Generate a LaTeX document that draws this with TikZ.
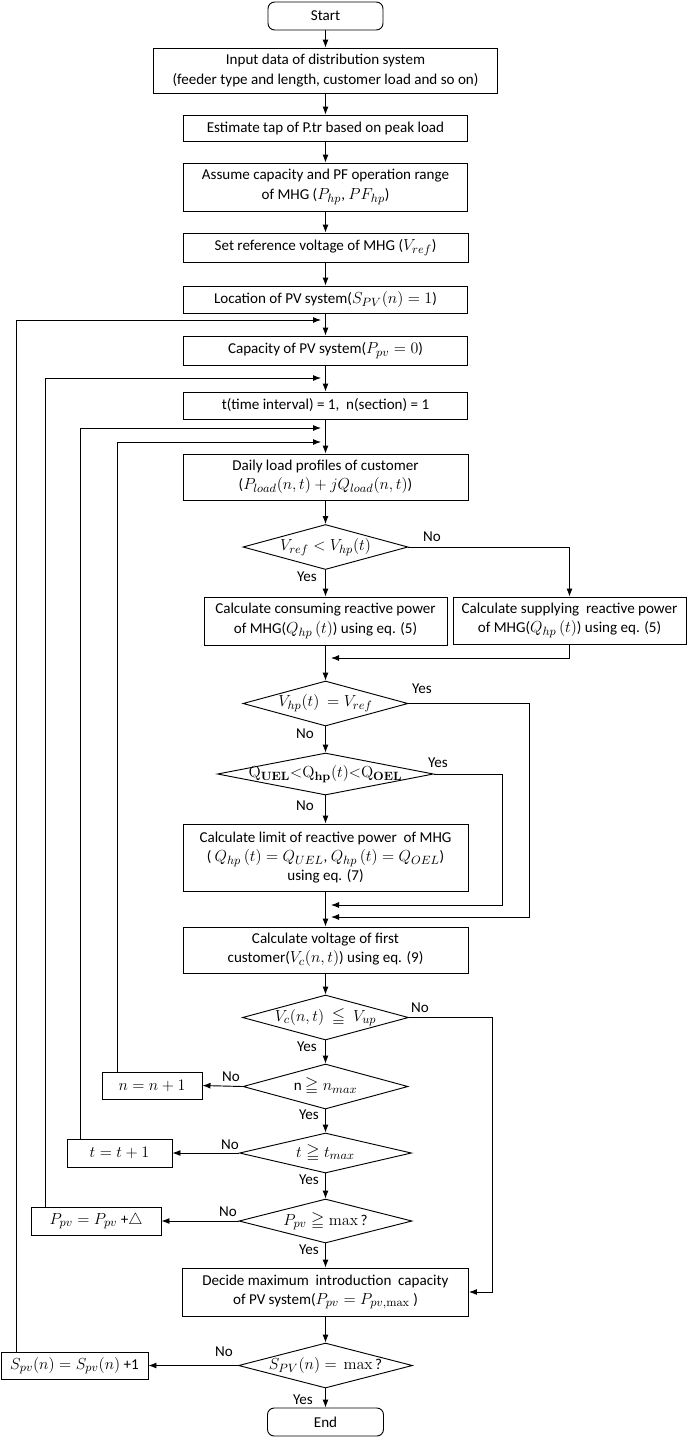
\documentclass[tikz,border=0pt]{standalone}
\usepackage{amsmath,amssymb}
\usepackage[no-math]{fontspec}
\setmainfont{Carlito}
\usetikzlibrary{shapes.geometric,arrows.meta}
\DeclareMathSizes{11.3}{12.8}{9.3}{7}
\newcommand\fsz{\fontsize{11.3}{14.5}\selectfont}
\tikzset{
  sz/.style 2 args={minimum width=#1*0.75pt, minimum height=#2*0.75pt},
  box/.style={draw, line width=0.7pt, align=center, inner sep=0pt, font=\fsz},
  term/.style={box, rounded corners=5pt},
  dia/.style={draw, diamond, line width=0.7pt, inner sep=0pt, font=\fsz},
  arr/.style={-{Latex[length=6pt,width=4.5pt]}, line width=0.7pt},
  lbl/.style={font=\fsz, inner sep=0pt}}
\begin{document}
\begin{tikzpicture}[x=0.75pt,y=-0.75pt]
\useasboundingbox (0,0) rectangle (698,1440);
% main column
\node[term, sz={115}{28}] (start) at (325.5,16) {Start};
\node[box, sz={344}{45}] (input) at (325.5,70.5) {Input data of distribution system\\(feeder type and length, customer load and so on)};
\node[box, sz={284}{26}] (est) at (325.5,128) {Estimate tap of P.tr based on peak load};
\node[box, sz={284}{48}] (assume) at (325.5,187) {Assume capacity and PF operation range\\of MHG ($P_{hp}$, $PF_{hp}$)};
\node[box, sz={285}{29}] (setref) at (325.5,247.5) {Set reference voltage of MHG ($V_{ref}$)};
\node[box, sz={284}{27}] (loc) at (325.5,299.5) {Location of PV system($S_{PV}(n) = 1$)};
\node[box, sz={284}{29}] (cap) at (325.5,350.5) {Capacity of PV system($P_{pv} = 0$)};
\node[box, sz={284}{27}] (tn) at (325.5,405.5) {t(time interval) = 1,\ \ n(section) = 1};
\node[box, sz={285}{46}] (daily) at (325.5,477) {Daily load profiles of customer\\($P_{load}(n,t) + jQ_{load}(n,t)$)};
\node[dia, sz={165}{45}, label={[lbl]center:$V_{ref} < V_{hp}(t)$}] (d1) at (325.5,547) {};
\node[box, sz={243}{48}] (cons) at (325.5,621) {Calculate consuming reactive power\\of MHG($Q_{hp}\,(t)$) using eq. (5)};
\node[box, sz={233}{47}] (supp) at (569.5,620.5) {Calculate supplying\ \ reactive power\\of MHG($Q_{hp}\,(t)$) using eq. (5)};
\node[dia, sz={165}{45}, label={[lbl]center:$V_{hp}(t)\ = V_{ref}$}] (d2) at (325.5,703.5) {};
\node[dia, sz={216}{42}, label={[lbl]center:$\mathrm{Q}_{\mathbf{UEL}}{<}\mathrm{Q}_{\mathbf{hp}}(t){<}\mathrm{Q}_{\mathbf{OEL}}$}] (d3) at (325.5,774) {};
\node[box, sz={285}{67}] (limit) at (325.5,857.5) {Calculate limit of reactive power\ \ of MHG\\( $Q_{hp}\,(t) = Q_{UEL}$, $Q_{hp}\,(t) = Q_{OEL}$)\\using eq. (7)};
\node[box, sz={285}{46}] (calc) at (325.5,950) {Calculate voltage of first\\customer($V_c(n,t)$) using eq. (9)};
\node[dia, sz={166}{45}, label={[lbl]center:$V_c(n,t)\ \leqq\ V_{up}$}] (d4) at (325.5,1017.5) {};
\node[dia, sz={165}{45}, label={[lbl]center:n $\geqq n_{max}$}] (d5) at (325.5,1086.5) {};
\node[box, sz={100}{27}] (nbox) at (152,1085.5) {$n = n + 1$};
\node[dia, sz={172}{40}, label={[lbl]center:$t \geqq t_{max}$}] (d6) at (325.5,1153) {};
\node[box, sz={105}{28}] (tbox) at (119.5,1153) {$t = t + 1$};
\node[dia, sz={173}{44}, label={[lbl]center:$P_{pv} \geqq \mathrm{max}$\,?}] (d7) at (325.5,1221) {};
\node[box, sz={130}{28}] (pbox) at (96,1221) {$P_{pv} = P_{pv}$ +$\triangle$};
\node[box, sz={286}{48}] (decide) at (325.5,1292) {Decide maximum\ \ introduction\ \ capacity\\of PV system($P_{pv} = P_{pv,\mathrm{max}}$ )};
\node[dia, sz={174}{45}, label={[lbl]center:$S_{PV}(n) =$\ \ $\mathrm{max}$\,?}] (d8) at (325.5,1365.5) {};
\node[box, sz={147}{27}] (sbox) at (74.5,1365.5) {$S_{pv}(n) = S_{pv}(n)$ +1};
\node[term, sz={116}{28}] (end) at (325.5,1422) {End};
% main vertical arrows
\draw[arr] (start) -- (input);
\draw[arr] (input) -- (est);
\draw[arr] (est) -- (assume);
\draw[arr] (assume) -- (setref);
\draw[arr] (setref) -- (loc);
\draw[arr] (loc) -- (cap);
\draw[arr] (cap) -- (tn);
\draw[arr] (tn) -- (daily);
\draw[arr] (daily) -- (d1);
\draw[arr] (d1) -- (cons);
\draw[arr] (d1.east) -| (supp.north);
\draw[arr] (cons) -- (d2);
\draw[arr] (d2) -- (d3);
\draw[arr] (d3) -- (limit);
\draw[arr] (limit) -- (calc);
\draw[arr] (calc) -- (d4);
\draw[arr] (d4) -- (d5);
\draw[arr] (d5) -- (d6);
\draw[arr] (d6) -- (d7);
\draw[arr] (d7) -- (decide);
\draw[arr] (decide) -- (d8);
\draw[arr] (d8) -- (end);
% merges from the right
\coordinate (m1) at (331,658);
\coordinate (m2) at (331,905);
\coordinate (m3) at (331,917);
\coordinate (r2) at (529,0);
\coordinate (r3) at (502,0);
\coordinate (r4) at (492,0);
\draw[arr] (supp.south) |- (m1);
\draw[arr] (d2.east) -| (r2 |- m3) -- (m3);
\draw[arr] (d3.east) -| (r3 |- m2) -- (m2);
\draw[arr] (d4.east) -| (r4 |- decide.east) -- (decide.east);
% No branches to the left
\draw[arr] (d5.west) -- (nbox.east);
\draw[arr] (d6.west) -- (tbox.east);
\draw[arr] (d7.west) -- (pbox.east);
\draw[arr] (d8.west) -- (sbox.east);
% loops back
\coordinate (L1) at (16,320);
\coordinate (L2) at (45,378);
\coordinate (L3) at (80,428);
\coordinate (L4) at (117,442);
\coordinate (i1) at (321,320);
\coordinate (i2) at (321,378);
\coordinate (i3) at (321,428);
\coordinate (i4) at (321,442);
\draw[arr] (sbox.north -| L1) |- (i1);
\draw[arr] (pbox.north -| L2) |- (i2);
\draw[arr] (tbox.north -| L3) |- (i3);
\draw[arr] (nbox.north -| L4) |- (i4);
% labels
\node[lbl] at (307,577) {Yes};
\node[lbl] at (432,537) {No};
\node[lbl] at (422,689) {Yes};
\node[lbl] at (305,734) {No};
\node[lbl] at (438,763) {Yes};
\node[lbl] at (305,806) {No};
\node[lbl] at (420,1008) {No};
\node[lbl] at (307,1047) {Yes};
\node[lbl] at (231,1077) {No};
\node[lbl] at (309,1115) {Yes};
\node[lbl] at (230,1145) {No};
\node[lbl] at (309,1180) {Yes};
\node[lbl] at (228,1212) {No};
\node[lbl] at (309,1250) {Yes};
\node[lbl] at (224,1352) {No};
\node[lbl] at (303,1400) {Yes};
\end{tikzpicture}
\end{document}
